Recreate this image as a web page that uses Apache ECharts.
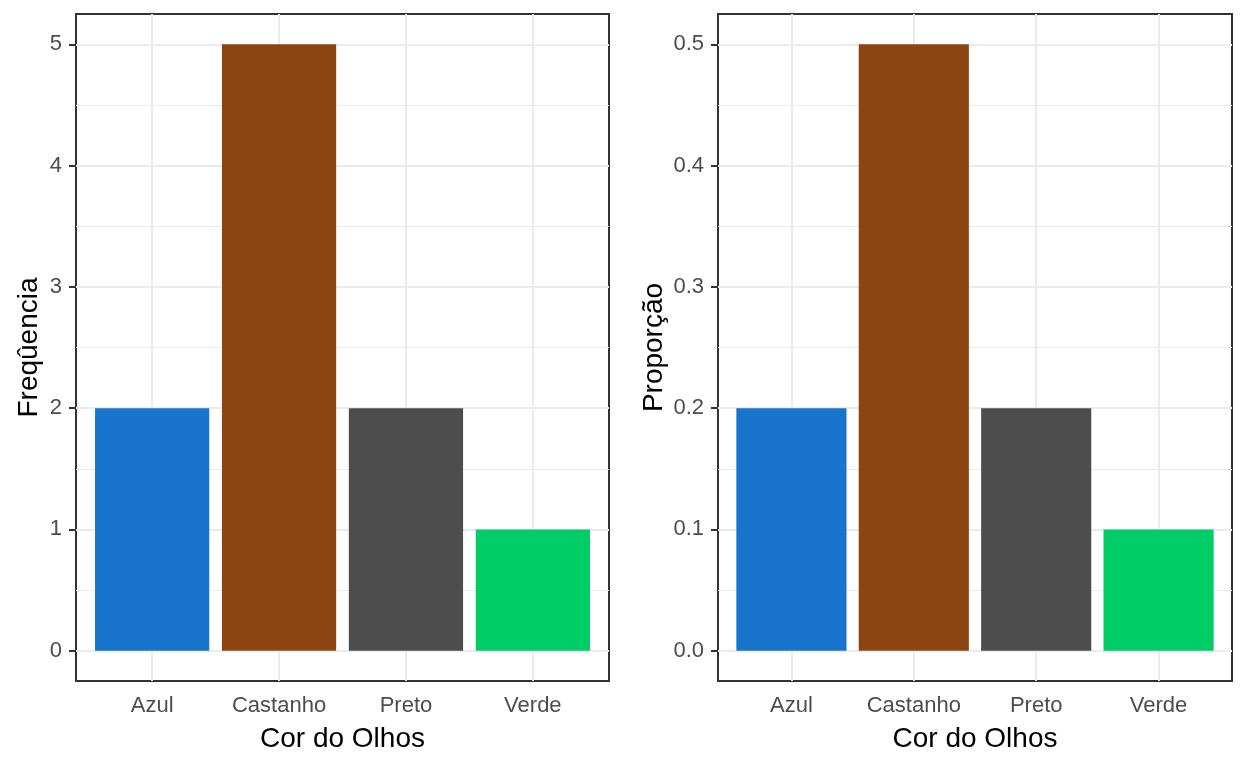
<!DOCTYPE html>
<html>
<head>
<meta charset="utf-8">
<script src="https://cdn.jsdelivr.net/npm/echarts@6/dist/echarts.min.js"></script>
<style>
html,body{margin:0;padding:0;background:#fff;}
#chart{width:1248px;height:768px;}
</style>
</head>
<body>
<div id="chart"></div>
<script>
// ---- data ----
var categories = ['Azul', 'Castanho', 'Preto', 'Verde'];
var barColors = ['#1874CD', '#8B4513', '#4D4D4D', '#00CD66'];
var frequencia = [2, 5, 2, 1];
var proporcao = [0.2, 0.5, 0.2, 0.1];
var freqTicks = [0, 1, 2, 3, 4, 5];
var freqMinor = [0.5, 1.5, 2.5, 3.5, 4.5];
var propTicks = [0, 0.1, 0.2, 0.3, 0.4, 0.5];
var propMinor = [0.05, 0.15, 0.25, 0.35, 0.45];
var xPositions = [1, 2, 3, 4];

var FONT = 'Liberation Sans, Arial, sans-serif';
var chart = echarts.init(document.getElementById('chart'), null, {renderer: 'canvas'});

var grids = [
  {left: 76, top: 14, width: 533, height: 667},
  {left: 718, top: 14, width: 514, height: 667}
];
grids.forEach(function (g) {
  g.show = true; g.borderColor = '#333333'; g.borderWidth = 2; g.backgroundColor = '#ffffff';
  g.containLabel = false;
});

function xAxisFor(i) {
  return {
    type: 'value', gridIndex: i, min: 0.4, max: 4.6,
    name: 'Cor do Olhos', nameLocation: 'middle', nameGap: 44,
    nameTextStyle: {fontFamily: FONT, fontSize: 28, color: '#000000'},
    axisLine: {show: false},
    axisTick: {show: true, length: 7, customValues: xPositions, lineStyle: {color: '#333333', width: 2}},
    axisLabel: {show: true, customValues: xPositions, margin: 14, fontFamily: FONT, fontSize: 22, color: '#4D4D4D',
      formatter: function (v) { return categories[Math.round(v) - 1] || ''; }},
    splitLine: {show: false}
  };
}
function yAxisFor(i, ticks, min, max, name, gap, fmt) {
  return {
    type: 'value', gridIndex: i, min: min, max: max,
    name: name, nameLocation: 'middle', nameGap: gap,
    nameTextStyle: {fontFamily: FONT, fontSize: 28, color: '#000000'},
    axisLine: {show: false},
    axisTick: {show: true, length: 7, customValues: ticks, lineStyle: {color: '#333333', width: 2}},
    axisLabel: {show: true, customValues: ticks, margin: 14, fontFamily: FONT, fontSize: 22, color: '#4D4D4D',
      formatter: fmt},
    splitLine: {show: false}
  };
}

function gridMarks(ticks, minor) {
  var d = [];
  minor.forEach(function (v) { d.push({yAxis: v, lineStyle: {color: '#EBEBEB', width: 1}}); });
  ticks.forEach(function (v) { d.push({yAxis: v, lineStyle: {color: '#EBEBEB', width: 2}}); });
  xPositions.forEach(function (v) { d.push({xAxis: v, lineStyle: {color: '#EBEBEB', width: 2}}); });
  return {silent: true, symbol: ['none', 'none'], label: {show: false}, z: 1, animation: false,
    emphasis: {disabled: true}, lineStyle: {type: 'solid'}, data: d};
}

function barSeries(i, values, ticks, minor) {
  return {
    type: 'bar', xAxisIndex: i, yAxisIndex: i, z: 2,
    barWidth: '90%',
    data: values.map(function (v, k) {
      return {value: [xPositions[k], v], itemStyle: {color: barColors[k]}};
    }),
    markLine: gridMarks(ticks, minor),
    animation: false
  };
}

chart.setOption({
  animation: false,
  grid: grids,
  xAxis: [xAxisFor(0), xAxisFor(1)],
  yAxis: [
    yAxisFor(0, freqTicks, -0.25, 5.25, 'Freqûencia', 33, function (v) { return String(Math.round(v)); }),
    yAxisFor(1, propTicks, -0.025, 0.525, 'Proporção', 50, function (v) { return v.toFixed(1); })
  ],
  series: [
    barSeries(0, frequencia, freqTicks, freqMinor),
    barSeries(1, proporcao, propTicks, propMinor)
  ]
});
</script>
</body>
</html>
